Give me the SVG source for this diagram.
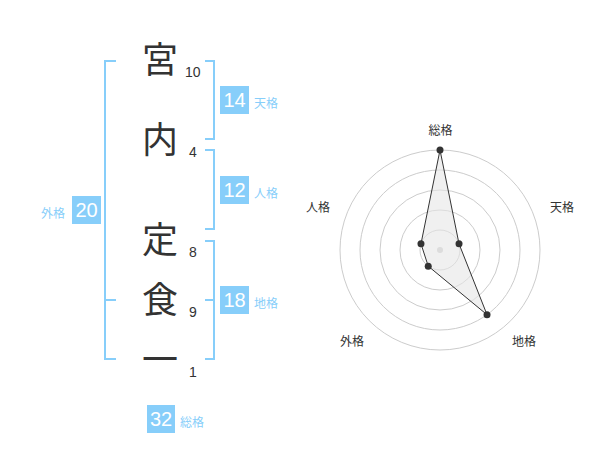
<svg xmlns="http://www.w3.org/2000/svg" width="600" height="470" viewBox="0 0 600 470">
<style>
.br{fill:none;stroke:#87cefa;stroke-width:2}
.box{fill:#87cefa}
.bn{font-family:"Liberation Sans",Arial,sans-serif;font-size:20px;fill:#fff;text-anchor:middle}
.bl{font-family:"Noto Sans CJK JP",sans-serif;font-size:12px;fill:#87cefa}
.ch{font-family:"Noto Sans CJK JP",sans-serif;font-size:36px;fill:#333;text-anchor:middle}
.num{font-family:"Liberation Sans",Arial,sans-serif;font-size:14px;fill:#333}
.ring{fill:none;stroke:#ccc;stroke-width:1}
.rl{font-family:"Noto Sans CJK JP",sans-serif;font-size:12px;fill:#333;text-anchor:middle}
.pt{fill:#333}
</style>
<rect width="600" height="470" fill="#fff"/>
<g id="connectors">
<path class="br" d="M116,61 H105 V359 H116 M105,300 H116"/>
<path class="br" d="M205,61 H214 V139 H205"/>
<path class="br" d="M205,150 H214 V229 H205"/>
<path class="br" d="M205,241 H214 V359 H205 M205,300 H214"/>
</g>
<g id="chars">
<g id="c1"><text class="ch" x="160" y="73">宮</text><text class="num" x="185" y="77">10</text></g>
<g id="c2"><text class="ch" x="160" y="153">内</text><text class="num" x="189" y="157">4</text></g>
<g id="c3"><text class="ch" x="160" y="253">定</text><text class="num" x="189" y="257">8</text></g>
<g id="c4"><text class="ch" x="160" y="313">食</text><text class="num" x="189" y="317">9</text></g>
<g id="c5"><text class="ch" x="160" y="373">一</text><text class="num" x="189" y="377">1</text></g>
</g>
<g id="tenkaku"><rect class="box" x="220" y="86" width="29" height="28"/><text class="bn" x="234.5" y="107">14</text><text class="bl" x="254" y="108">天格</text></g>
<g id="jinkaku"><rect class="box" x="220" y="176" width="29" height="28"/><text class="bn" x="234.5" y="197">12</text><text class="bl" x="254" y="198">人格</text></g>
<g id="chikaku"><rect class="box" x="220" y="286" width="29" height="28"/><text class="bn" x="234.5" y="307">18</text><text class="bl" x="254" y="308">地格</text></g>
<g id="gaikaku"><rect class="box" x="72" y="196" width="29" height="28"/><text class="bn" x="86.5" y="217">20</text><text class="bl" x="41" y="218">外格</text></g>
<g id="soukaku"><rect class="box" x="147" y="405" width="28" height="28"/><text class="bn" x="161" y="426">32</text><text class="bl" x="180" y="427">総格</text></g>
<g id="radar">
<circle class="ring" cx="440" cy="250" r="20"/>
<circle class="ring" cx="440" cy="250" r="40"/>
<circle class="ring" cx="440" cy="250" r="60"/>
<circle class="ring" cx="440" cy="250" r="80"/>
<circle class="ring" cx="440" cy="250" r="100"/>
<circle cx="440" cy="250" r="3" fill="#ccc"/>
<polygon points="440,150 459.02,243.82 487.02,314.72 428.24,266.18 420.98,243.82" fill="#e6e6e6" fill-opacity="0.6" stroke="#333" stroke-width="1"/>
<circle class="pt" cx="440" cy="150" r="3.5"/>
<circle class="pt" cx="459.02" cy="243.82" r="3.5"/>
<circle class="pt" cx="487.02" cy="314.72" r="3.5"/>
<circle class="pt" cx="428.24" cy="266.18" r="3.5"/>
<circle class="pt" cx="420.98" cy="243.82" r="3.5"/>
<text class="rl" x="440.5" y="135">総格</text>
<text class="rl" x="562" y="212">天格</text>
<text class="rl" x="318" y="212">人格</text>
<text class="rl" x="352" y="346">外格</text>
<text class="rl" x="524" y="346">地格</text>
</g>
</svg>
